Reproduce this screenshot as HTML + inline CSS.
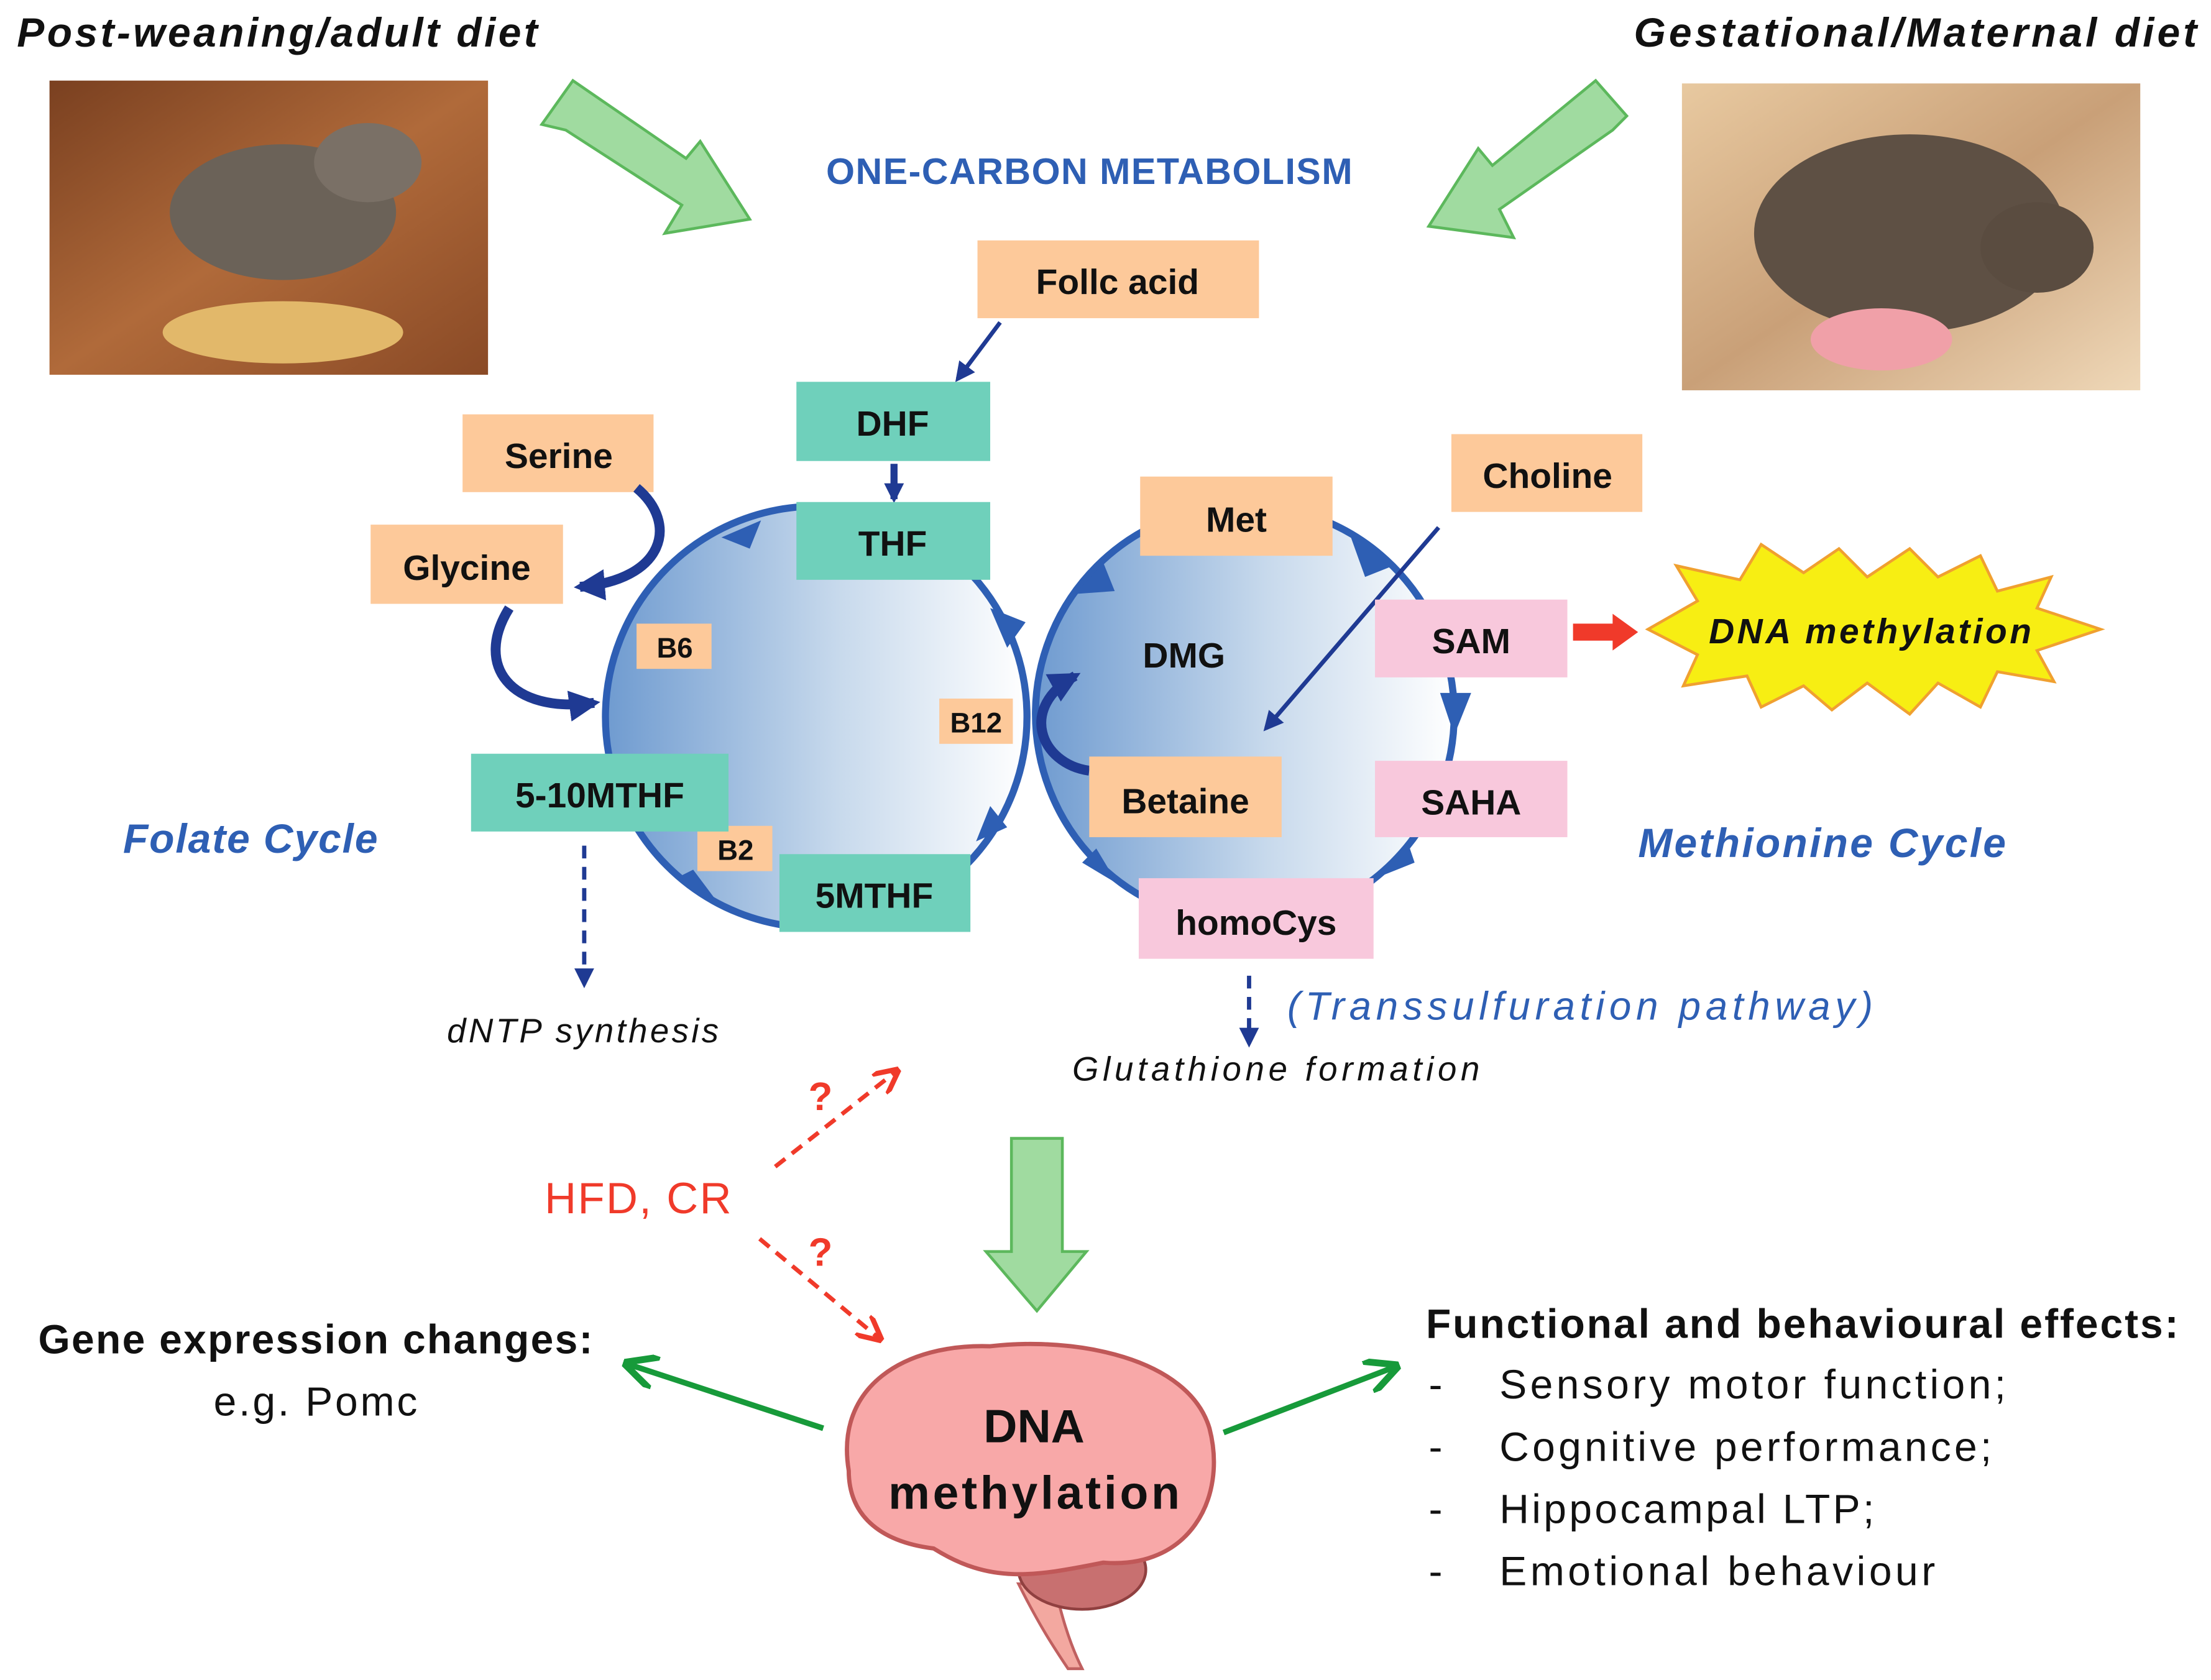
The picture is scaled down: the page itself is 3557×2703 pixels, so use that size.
<!DOCTYPE html>
<html><head><meta charset="utf-8"><style>
html,body{margin:0;padding:0;background:#fff}
svg{display:block}
text{font-family:"Liberation Sans",sans-serif}
.b{font-weight:bold;font-size:25px;text-anchor:middle;fill:#111}
.s{font-weight:bold;font-size:20px;text-anchor:middle;fill:#111}
</style></head><body>
<svg width="3557" height="2703" viewBox="0 0 1563 1188" preserveAspectRatio="none" xmlns="http://www.w3.org/2000/svg">
<defs>
<linearGradient id="cg" x1="0" x2="1" y1="0" y2="0"><stop offset="0" stop-color="#6f9bd0"/><stop offset="0.55" stop-color="#c7d9ec"/><stop offset="1" stop-color="#ffffff"/></linearGradient>
<linearGradient id="m1" x1="0" x2="1" y1="0" y2="1"><stop offset="0" stop-color="#7a4020"/><stop offset="0.5" stop-color="#b06a3a"/><stop offset="1" stop-color="#8a4a26"/></linearGradient>
<linearGradient id="m2" x1="0" x2="1" y1="0" y2="1"><stop offset="0" stop-color="#e8c9a0"/><stop offset="0.5" stop-color="#c9a078"/><stop offset="1" stop-color="#efd8b8"/></linearGradient>
<marker id="ab" viewBox="0 0 10 10" refX="8" refY="5" markerWidth="14" markerHeight="14" markerUnits="userSpaceOnUse" orient="auto"><path d="M0,0L10,5L0,10z" fill="#1f3a93"/></marker>
<marker id="ab2" viewBox="0 0 10 10" refX="8" refY="5" markerWidth="22" markerHeight="22" markerUnits="userSpaceOnUse" orient="auto"><path d="M0,0L10,5L0,10z" fill="#1f3a93"/></marker>
<marker id="ar" viewBox="0 0 10 10" refX="8" refY="5" markerWidth="6" markerHeight="6" orient="auto"><path d="M0,0L10,5L0,10" fill="none" stroke="#f03a2a" stroke-width="2"/></marker>
<marker id="ag" viewBox="0 0 10 10" refX="8" refY="5" markerWidth="6" markerHeight="6" orient="auto"><path d="M0,0L10,5L0,10" fill="none" stroke="#179a3a" stroke-width="2"/></marker>
</defs>

<text x="12" y="33" font-size="29" font-weight="bold" font-style="italic" fill="#111" textLength="368">Post-weaning/adult diet</text>
<text x="1553" y="33" font-size="29" font-weight="bold" font-style="italic" fill="#111" text-anchor="end" textLength="398">Gestational/Maternal diet</text>

<rect x="35" y="57" width="310" height="208" fill="url(#m1)"/>
<ellipse cx="200" cy="150" rx="80" ry="48" fill="#6b6258"/>
<ellipse cx="260" cy="115" rx="38" ry="28" fill="#7a7066"/>
<ellipse cx="200" cy="235" rx="85" ry="22" fill="#e2b86a"/>
<rect x="1189" y="59" width="324" height="217" fill="url(#m2)"/>
<ellipse cx="1350" cy="165" rx="110" ry="70" fill="#5e5044"/>
<ellipse cx="1440" cy="175" rx="40" ry="32" fill="#5a4c40"/>
<ellipse cx="1330" cy="240" rx="50" ry="22" fill="#f0a0a8"/>

<polygon points="383,88 405,57 485,112 495,100 530,155 470,165 482,145 400,92" fill="#a0dba0" stroke="#5cb85c" stroke-width="2"/>
<polygon points="1150,82 1128,57 1055,117 1045,105 1010,160 1070,168 1060,148 1140,92" fill="#a0dba0" stroke="#5cb85c" stroke-width="2"/>

<text x="770" y="130" font-size="26" font-weight="bold" fill="#2e5fb4" text-anchor="middle" textLength="372">ONE-CARBON METABOLISM</text>

<circle cx="577" cy="507" r="149" fill="url(#cg)" stroke="#2e5fb4" stroke-width="5"/>
<circle cx="880" cy="505" r="148" fill="url(#cg)" stroke="#2e5fb4" stroke-width="5"/>

<rect x="691" y="170" width="199" height="55" fill="#fdc99a"/><text class="b" x="790" y="208">Follc acid</text>
<line x1="707" y1="228" x2="677" y2="268" stroke="#1f3a93" stroke-width="3" marker-end="url(#ab)"/>
<rect x="563" y="270" width="137" height="56" fill="#6fd0bb"/><text class="b" x="631" y="308">DHF</text>
<line x1="632" y1="328" x2="632" y2="353" stroke="#1f3a93" stroke-width="5" marker-end="url(#ab)"/>
<rect x="563" y="355" width="137" height="55" fill="#6fd0bb"/><text class="b" x="631" y="393">THF</text>

<rect x="327" y="293" width="135" height="55" fill="#fdc99a"/><text class="b" x="395" y="331">Serine</text>
<rect x="262" y="371" width="136" height="56" fill="#fdc99a"/><text class="b" x="330" y="410">Glycine</text>
<path d="M450,345 C480,370 470,410 410,415" fill="none" stroke="#1f3a93" stroke-width="7" marker-end="url(#ab2)"/>
<path d="M360,430 C335,470 360,505 420,497" fill="none" stroke="#1f3a93" stroke-width="7" marker-end="url(#ab2)"/>

<rect x="450" y="441" width="53" height="32" fill="#fdc99a"/><text class="s" x="477" y="465">B6</text>
<rect x="664" y="494" width="52" height="32" fill="#fdc99a"/><text class="s" x="690" y="518">B12</text>
<rect x="493" y="584" width="53" height="32" fill="#fdc99a"/><text class="s" x="520" y="608">B2</text>

<rect x="333" y="533" width="182" height="55" fill="#6fd0bb"/><text class="b" x="424" y="571">5-10MTHF</text>
<rect x="551" y="604" width="135" height="55" fill="#6fd0bb"/><text class="b" x="618" y="642">5MTHF</text>

<polygon points="510,380 538,368 530,388" fill="#2e5fb4"/>
<polygon points="700,430 712,458 725,440" fill="#2e5fb4"/>
<polygon points="690,595 700,570 712,585" fill="#2e5fb4"/>
<polygon points="480,620 505,635 490,615" fill="#2e5fb4"/>
<polygon points="760,420 780,398 788,418" fill="#2e5fb4"/>
<polygon points="955,380 985,400 965,408" fill="#2e5fb4"/>
<polygon points="1018,490 1040,490 1028,520" fill="#2e5fb4"/>
<polygon points="975,620 1000,610 995,595" fill="#2e5fb4"/>
<polygon points="765,610 790,625 775,600" fill="#2e5fb4"/>
<path d="M770,545 C735,540 720,500 760,478" fill="none" stroke="#1f3a93" stroke-width="7" marker-end="url(#ab2)"/>

<rect x="806" y="337" width="136" height="56" fill="#fdc99a"/><text class="b" x="874" y="376">Met</text>
<rect x="1026" y="307" width="135" height="55" fill="#fdc99a"/><text class="b" x="1094" y="345">Choline</text>
<line x1="1017" y1="373" x2="895" y2="515" stroke="#1f3a93" stroke-width="3" marker-end="url(#ab)"/>
<text class="b" x="837" y="472">DMG</text>
<rect x="972" y="424" width="136" height="55" fill="#f8c8dc"/><text class="b" x="1040" y="462">SAM</text>
<rect x="972" y="538" width="136" height="54" fill="#f8c8dc"/><text class="b" x="1040" y="576">SAHA</text>
<rect x="770" y="535" width="136" height="57" fill="#fdc99a"/><text class="b" x="838" y="575">Betaine</text>
<rect x="805" y="621" width="166" height="57" fill="#f8c8dc"/><text class="b" x="888" y="661">homoCys</text>

<polygon points="1112,441 1140,441 1140,434 1158,447 1140,460 1140,453 1112,453" fill="#f03a2a"/>
<polygon points="1165,445 1200,425 1185,400 1230,410 1245,385 1275,405 1300,388 1320,408 1350,388 1370,408 1400,393 1412,418 1450,408 1440,430 1485,445 1440,460 1452,482 1412,475 1400,500 1370,483 1350,505 1320,483 1295,502 1275,485 1245,500 1235,478 1190,485 1200,463" fill="#f7ee13" stroke="#f0a030" stroke-width="2"/>
<text x="1322" y="455" font-size="25" font-weight="bold" font-style="italic" fill="#111" text-anchor="middle" textLength="228">DNA methylation</text>

<text x="177" y="603" font-size="29" font-weight="bold" font-style="italic" fill="#2e5fb4" text-anchor="middle" textLength="180">Folate Cycle</text>
<text x="1288" y="606" font-size="29" font-weight="bold" font-style="italic" fill="#2e5fb4" text-anchor="middle" textLength="260">Methionine Cycle</text>

<line x1="413" y1="598" x2="413" y2="696" stroke="#1f3a93" stroke-width="3" stroke-dasharray="9,6" marker-end="url(#ab)"/>
<text x="412" y="737" font-size="24" font-style="italic" fill="#111" text-anchor="middle" textLength="192">dNTP synthesis</text>
<line x1="883" y1="690" x2="883" y2="738" stroke="#1f3a93" stroke-width="3" stroke-dasharray="9,6" marker-end="url(#ab)"/>
<text x="1117" y="721" font-size="28" font-style="italic" fill="#2e5fb4" text-anchor="middle" textLength="414">(Transsulfuration pathway)</text>
<text x="902" y="764" font-size="24" font-style="italic" fill="#111" text-anchor="middle" textLength="288">Glutathione formation</text>

<text x="451" y="858" font-size="31" fill="#f03a2a" text-anchor="middle" textLength="132">HFD, CR</text>
<line x1="548" y1="825" x2="633" y2="758" stroke="#f03a2a" stroke-width="3" stroke-dasharray="9,6" marker-end="url(#ar)"/>
<line x1="537" y1="876" x2="621" y2="946" stroke="#f03a2a" stroke-width="3" stroke-dasharray="9,6" marker-end="url(#ar)"/>
<text x="580" y="785" font-size="28" font-weight="bold" fill="#f03a2a" text-anchor="middle">?</text>
<text x="580" y="895" font-size="28" font-weight="bold" fill="#f03a2a" text-anchor="middle">?</text>

<polygon points="715,805 751,805 751,885 768,885 733,927 697,885 715,885" fill="#a0dba0" stroke="#5cb85c" stroke-width="2"/>

<path d="M720,1120 C735,1150 745,1165 755,1180 L765,1180 C755,1160 750,1140 745,1120 Z" fill="#f3a8a0" stroke="#c06060" stroke-width="2"/>
<ellipse cx="765" cy="1110" rx="45" ry="28" fill="#c87070" stroke="#904040" stroke-width="2"/>
<path d="M600,1040 C590,980 640,950 700,952 C760,945 840,960 855,1010 C868,1060 840,1110 780,1105 C730,1115 700,1120 660,1095 C620,1090 600,1070 600,1040Z" fill="#f8a8a8" stroke="#c05858" stroke-width="3"/>
<text x="731" y="1020" font-size="33" font-weight="bold" fill="#111" text-anchor="middle">DNA</text>
<text x="731" y="1067" font-size="33" font-weight="bold" fill="#111" text-anchor="middle" textLength="206">methylation</text>

<line x1="582" y1="1010" x2="445" y2="965" stroke="#179a3a" stroke-width="4" marker-end="url(#ag)"/>
<line x1="865" y1="1013" x2="985" y2="967" stroke="#179a3a" stroke-width="4" marker-end="url(#ag)"/>

<text x="223" y="957" font-size="29" font-weight="bold" fill="#111" text-anchor="middle" textLength="392">Gene expression changes:</text>
<text x="223" y="1001" font-size="29" fill="#111" text-anchor="middle" textLength="144">e.g. Pomc</text>
<text x="1008" y="946" font-size="29" font-weight="bold" fill="#111" textLength="532">Functional and behavioural effects:</text>
<g font-size="29" fill="#111">
<text x="1010" y="989">-</text><text x="1060" y="989" textLength="358">Sensory motor function;</text>
<text x="1010" y="1033">-</text><text x="1060" y="1033" textLength="348">Cognitive performance;</text>
<text x="1010" y="1077">-</text><text x="1060" y="1077" textLength="265">Hippocampal LTP;</text>
<text x="1010" y="1121">-</text><text x="1060" y="1121" textLength="308">Emotional behaviour</text>
</g>
</svg>
</body></html>
